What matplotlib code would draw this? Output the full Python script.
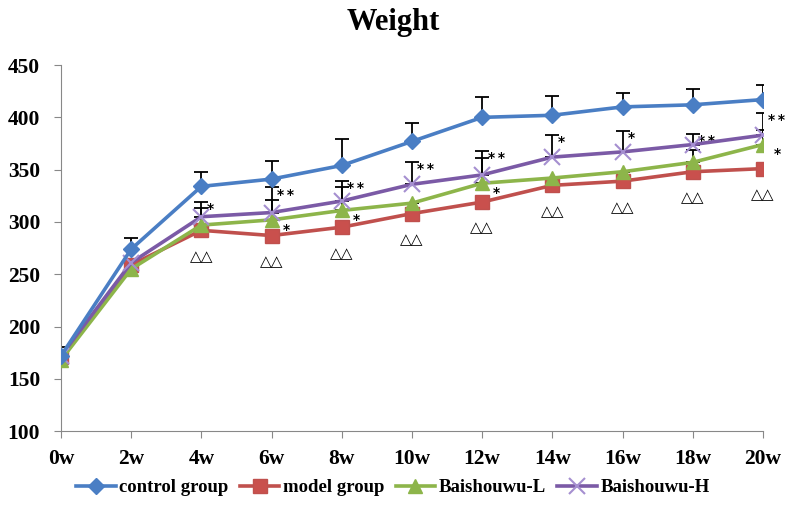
import matplotlib
matplotlib.use("Agg")
import matplotlib.pyplot as plt

weeks = ["0w", "2w", "4w", "6w", "8w", "10w", "12w", "14w", "16w", "18w", "20w"]

control = [172, 274, 334, 341, 354, 377, 400, 402, 410, 412, 417]
control_err = [8, 11, 14, 17, 25, 18, 19, 18, 13, 15, 14]
model = [171, 259, 292, 287, 295, 308, 319, 335, 339, 348, 351]
low = [168, 255, 297, 302, 311, 318, 337, 342, 348, 357, 374]
low_err = [0, 0, 16, 19, 22, 0, 24, 0, 0, 12, 14]
high = [172, 261, 305, 309, 320, 336, 345, 362, 367, 374, 383]
high_err = [0, 0, 14, 24, 19, 21, 23, 21, 20, 10, 21]

high_sig = ["", "", "*", "**", "**", "**", "**", "*", "*", "**", "**"]
low_sig = ["", "", "", "*", "*", "", "*", "", "", "", "*"]
model_sig = ["", ""] + ["\u25b3\u25b3"] * 9

serif = "Liberation Serif"

fig = plt.figure(figsize=(7.86, 5.29), dpi=100)
ax = fig.add_axes([0.0776, 0.185, 0.893, 0.692])

x = list(range(len(weeks)))

# error bars first so the lines sit on top
for vals, errs in [(control, control_err), (high, high_err), (low, low_err)]:
    ax.errorbar(x, vals, yerr=[[0] * len(x), errs], fmt="none",
                ecolor="black", elinewidth=1.3, capsize=5, capthick=1.3,
                zorder=2)

ax.plot(x, control, color="#4A7EC4", lw=2.6, marker="D", ms=8,
        mfc="#4A7EC4", mec="#4A7EC4", label="control group", zorder=5)
ax.plot(x, model, color="#C0504D", lw=2.6, marker="s", ms=10,
        mfc="#C9504D", mec="#C0504D", label="model group", zorder=3)
ax.plot(x, low, color="#8DB54A", lw=2.6, marker="^", ms=10,
        mfc="#8DB54A", mec="#8DB54A", label="Baishouwu-L", zorder=4)
ax.plot(x, high, color="#7B5AA6", lw=2.6, marker="x", ms=11, mew=1.5,
        mec="#A58FD0", label="Baishouwu-H", zorder=4)

for i in range(len(x)):
    if high_sig[i]:
        ax.annotate(high_sig[i].replace("**", "*\u2009*"),
                    (x[i], high[i] + high_err[i]),
                    xytext=(4, -8), textcoords="offset points",
                    fontsize=10, fontweight="bold", family="DejaVu Sans",
                    annotation_clip=False)
    if low_sig[i]:
        ax.annotate(low_sig[i], (x[i], low[i]),
                    xytext=(8, -10), textcoords="offset points",
                    fontsize=10, fontweight="bold", family="DejaVu Sans")
    if model_sig[i]:
        ax.annotate(model_sig[i], (x[i], model[i]),
                    xytext=(0, -22), textcoords="offset points",
                    ha="center", fontsize=11, family="DejaVu Sans")

ax.set_xlim(0, len(x) - 1)
ax.set_ylim(100, 450)
ax.set_xticks(x)
ax.set_xticklabels(weeks)
ax.set_yticks(range(100, 451, 50))

for lab in ax.get_xticklabels() + ax.get_yticklabels():
    lab.set_fontfamily(serif)
    lab.set_fontweight("bold")
    lab.set_fontsize(15.5)

ax.spines["top"].set_visible(False)
ax.spines["right"].set_visible(False)
ax.spines["left"].set_color("#888888")
ax.spines["bottom"].set_color("#888888")
ax.tick_params(axis="both", colors="#888888", length=5, labelcolor="black")
ax.tick_params(axis="x", pad=8)
ax.tick_params(axis="y", pad=10)

fig.suptitle("Weight", x=0.5, y=0.985, fontsize=22, fontweight="bold",
             family=serif)

handles, labels = ax.get_legend_handles_labels()
fig.legend(handles, labels, loc="center", bbox_to_anchor=(0.5, 0.078),
           ncol=4, frameon=False, handlelength=2.1, columnspacing=0.6,
           handletextpad=0.2,
           prop={"family": serif, "weight": "bold", "size": 13.5})

fig.savefig("out.png", dpi=100)
